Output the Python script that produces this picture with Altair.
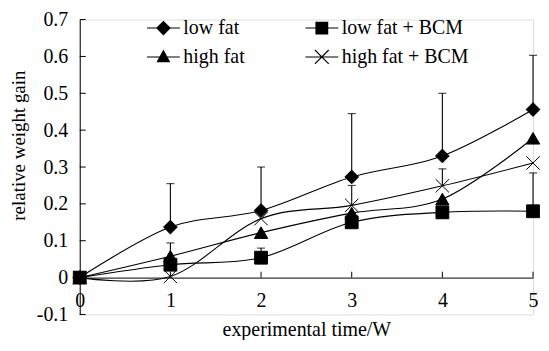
import altair as alt
import pandas as pd

weeks = [0, 1, 2, 3, 4, 5]
series_names = ["low fat", "low fat + BCM", "high fat", "high fat + BCM"]

low_fat = [0, 0.137, 0.182, 0.273, 0.330, 0.456]
low_fat_bcm = [0, 0.035, 0.054, 0.150, 0.177, 0.180]
high_fat = [0, 0.058, 0.122, 0.175, 0.213, 0.378]
high_fat_bcm = [0, 0.003, 0.160, 0.196, 0.249, 0.311]

low_fat_upper = [None, 0.255, 0.300, 0.445, 0.500, 0.603]
low_fat_bcm_upper = [None, None, 0.080, None, None, 0.284]
high_fat_upper = [None, 0.094, None, None, None, None]
high_fat_bcm_upper = [None, None, None, 0.250, 0.295, None]

y_tick_values = [-0.1, 0, 0.1, 0.2, 0.3, 0.4, 0.5, 0.6, 0.7]
x_tick_values = [0, 1, 2, 3, 4, 5]

rows = []
for name, vals, ups in zip(series_names,
                           [low_fat, low_fat_bcm, high_fat, high_fat_bcm],
                           [low_fat_upper, low_fat_bcm_upper, high_fat_upper, high_fat_bcm_upper]):
    for w, v, u in zip(weeks, vals, ups):
        rows.append(dict(series=name, week=w, value=v, upper=u))
df = pd.DataFrame(rows)
err = df.dropna(subset=["upper"])

FONT = "Liberation Serif"
xs = alt.Scale(domain=[0, 5], nice=False, zero=False)
ys = alt.Scale(domain=[-0.1, 0.7], nice=False, zero=False)

xaxis = alt.Axis(values=x_tick_values, title="experimental time/W", offset=-37,
                 ticks=False, labelPadding=13, titlePadding=9, labelFontSize=20,
                 titleFontSize=20, labelFont=FONT, titleFont=FONT, titleFontWeight="normal",
                 domainColor="black", labelColor="black", titleColor="black", grid=False,
                 labelFlush=False)
yaxis = alt.Axis(values=y_tick_values, title="relative weight gain", ticks=False,
                 labelPadding=12, titlePadding=8, titleY=126, labelFontSize=20, titleFontSize=19,
                 labelFont=FONT, titleFont=FONT, titleFontWeight="normal",
                 domainColor="black", labelColor="black", titleColor="black", grid=False,
                 labelExpr="datum.value == 0 ? '0' : replace(format(datum.value, '.1f'), '\u2212', '-')")

X = lambda: alt.X("week:Q", scale=xs, axis=xaxis)
Y = lambda: alt.Y("value:Q", scale=ys, axis=yaxis)

marker_shapes = ["diamond", "square", "triangle-up", "M-1,-1L1,1M-1,1L1,-1"]
marker_sizes = [190, 165, 180, 180]

# legend glyphs: a thin filled bar for the line plus the filled marker
LINE = "M-1,-0.033H1V0.033H-1Z"
legend_shapes = [
    LINE + "M0,-0.45L0.45,0L0,0.45L-0.45,0Z",
    LINE + "M-0.39,-0.39H0.39V0.39H-0.39Z",
    LINE + "M0,-0.45L0.42,0.33H-0.42Z",
    LINE + "M-0.395,-0.445L0.445,0.395L0.395,0.445L-0.445,-0.395Z"
           "M-0.395,0.445L-0.445,0.395L0.395,-0.445L0.445,-0.395Z",
]

lines = alt.Chart(df).mark_line(interpolate="cardinal", color="black", strokeWidth=1.1).encode(
    x=X(), y=Y(), detail="series:N")

errs = alt.Chart(err).mark_rule(color="black", strokeWidth=1.1).encode(
    x=X(), y=Y(), y2="upper:Q")
caps = alt.Chart(err).mark_tick(color="black", thickness=1.2, size=8, orient="horizontal").encode(
    x=X(), y=alt.Y("upper:Q", scale=ys, axis=yaxis))

ytick_df = pd.DataFrame({"week": [0] * len(y_tick_values), "week2": [0.066] * len(y_tick_values),
                         "value": y_tick_values})
xtick_df = pd.DataFrame({"week": x_tick_values[1:], "value": [0] * 5, "value2": [0.016] * 5})

yticks = alt.Chart(ytick_df).mark_rule(color="black", strokeWidth=1).encode(
    x=X(), x2="week2:Q", y=Y())
xticks = alt.Chart(xtick_df).mark_rule(color="black", strokeWidth=1).encode(
    x=X(), y=Y(), y2="value2:Q")

point_layers = []
for name, shp, sz in zip(series_names, marker_shapes, marker_sizes):
    point_layers.append(
        alt.Chart(df).transform_filter(alt.datum.series == name).mark_point(
            shape=shp, filled=True, color="black", stroke="black", strokeWidth=1,
            opacity=1, size=sz).encode(x=X(), y=Y()))

legend_layer = alt.Chart(df).mark_point(
    filled=False, fill="black", stroke="black", strokeWidth=1, opacity=0, size=1089).encode(
    x=X(), y=Y(),
    shape=alt.Shape("series:N", scale=alt.Scale(domain=series_names, range=legend_shapes),
                    legend=alt.Legend(title=None, orient="none", legendX=67, legendY=-8.5,
                                      direction="horizontal", columns=2, columnPadding=58,
                                      rowPadding=2, labelFont=FONT, labelFontSize=20,
                                      labelColor="black", labelOffset=3, labelLimit=300,
                                      symbolSize=1089, symbolFillColor="black",
                                      symbolStrokeColor="black", symbolStrokeWidth=1,
                                      symbolOpacity=1, padding=0)))

chart = alt.layer(yticks, xticks, lines, errs, caps, *point_layers, legend_layer).properties(
    width=455, height=296,
    autosize=alt.AutoSizeParams(type="none"),
    padding={"left": 72, "top": 11, "right": 8, "bottom": 25},
).configure_view(stroke=None).configure(background="white")

chart.save("out.html", embed_options={"renderer": "svg", "actions": False})
